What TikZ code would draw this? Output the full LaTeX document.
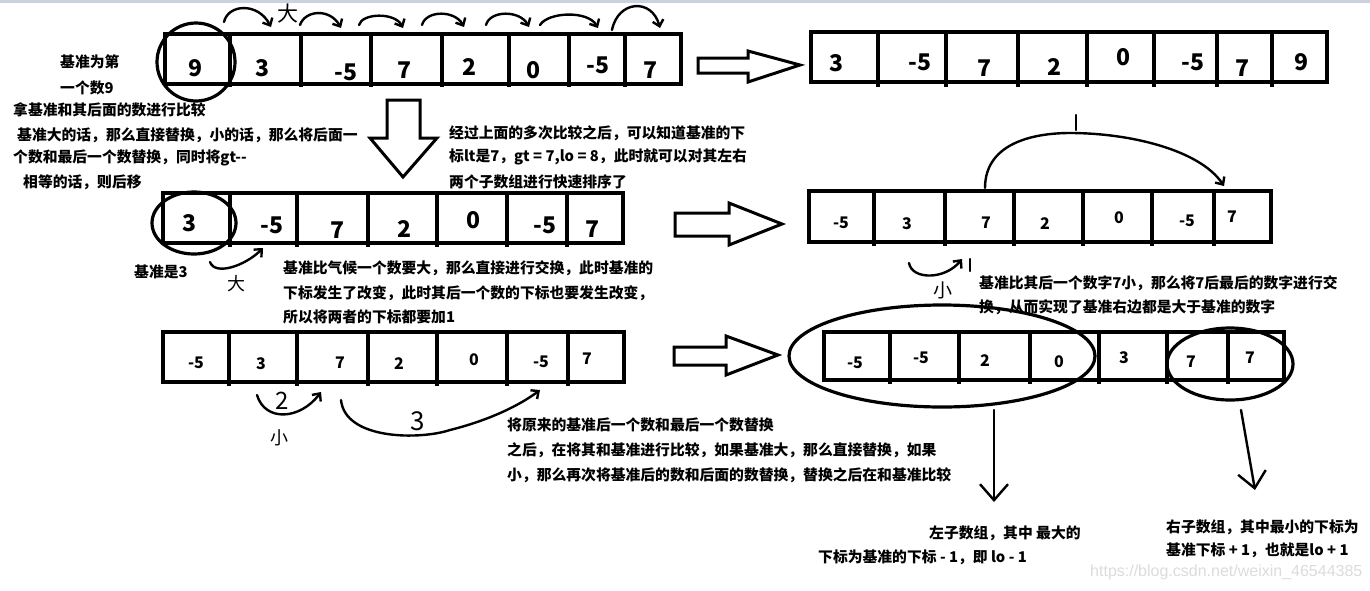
\documentclass[tikz,border=0pt]{standalone}
\usepackage{fontspec}
\setmainfont{Noto Sans CJK SC}
\newfontfamily\wmfont{Liberation Sans}
\usetikzlibrary{arrows.meta}
\definecolor{topband}{HTML}{C9D2DE}
\definecolor{wmgray}{HTML}{DCDCDC}
\tikzset{
  gridl/.style={line width=3.6pt, line join=miter},
  numL/.style={font=\bfseries\fontsize{23}{23}\selectfont, inner sep=0pt},
  numS/.style={font=\bfseries\fontsize{16}{16}\selectfont, inner sep=0pt},
  txt/.style={font=\bfseries\fontsize{14.8}{14.8}\selectfont, anchor=west, inner sep=0pt},
  hand/.style={line width=2.4pt, line cap=round, line join=round},
  harrow/.style={hand, -{Straight Barb[length=6pt,width=11pt]}},
  bigbarb/.style={hand, -{Straight Barb[length=16pt,width=28pt]}},
  handtxt/.style={font=\fontsize{#1}{#1}\selectfont, inner sep=0pt},
  blockarr/.style={draw, line width=3pt, fill=white, line join=miter},
  ring/.style={draw, line width=3.2pt},
}
\begin{document}
\begin{tikzpicture}[x=1pt,y=-1pt]
\useasboundingbox (0,0) rectangle (1370,590);
\fill[white] (0,0) rectangle (1370,590);
\fill[topband] (0,0) rectangle (1370,3);

% ---------- row 1 left ----------
\draw[gridl] (165,34) rectangle (681,84);
\foreach \x in {230,301,371,442,509,569,625} \draw[gridl] (\x,34) -- (\x,87);
\foreach \n/\x/\y/\v in {a1/196/68/9, a2/263/68/3, a3/346/72/-5, a4/404/70/7, a5/469/67/2, a6/533/70/0, a7/598/65/-5, a8/650/70/7}
  \node[numL] (\n) at (\x,\y) {\v};
\draw[ring] (196,62) ellipse [x radius=39, y radius=39];

% arcs over row 1
\coordinate (p1s) at (224,22); \coordinate (p1e) at (271,27);
\coordinate (p2s) at (300,25); \coordinate (p2e) at (341,28);
\coordinate (p3s) at (359,25); \coordinate (p3e) at (403,28);
\coordinate (p4s) at (422,25); \coordinate (p4e) at (464,27);
\coordinate (p5s) at (486,25); \coordinate (p5e) at (529,27);
\coordinate (p6s) at (540,25); \coordinate (p6e) at (598,28);
\coordinate (p7s) at (612,30); \coordinate (p7e) at (660,28);
\draw[harrow] (p1s) .. controls (228,4) and (258,2) .. (p1e);
\draw[harrow] (p2s) .. controls (305,10) and (330,8) .. (p2e);
\draw[harrow] (p3s) .. controls (362,13) and (395,12) .. (p3e);
\draw[harrow] (p4s) .. controls (426,10) and (455,10) .. (p4e);
\draw[harrow] (p5s) .. controls (490,10) and (520,10) .. (p5e);
\draw[harrow] (p6s) .. controls (548,12) and (588,10) .. (p6e);
\draw[harrow] (p7s) .. controls (618,0) and (652,-2) .. (p7e);
\node[handtxt=21] (h1) at (288,14) {大};

% ---------- block arrows ----------
\draw[blockarr] (698,58) -- (748,58) -- (748,51) -- (800,65) -- (748,82) -- (748,73) -- (698,73) -- cycle;
\draw[blockarr] (387,100) -- (420,100) -- (420,138) -- (437,138) -- (403,177) -- (370,138) -- (387,138) -- cycle;
\draw[blockarr] (675,213) -- (729,213) -- (729,203) -- (782,224) -- (729,245) -- (729,236) -- (675,236) -- cycle;
\draw[blockarr] (674,347) -- (726,347) -- (726,336) -- (778,355) -- (726,375) -- (726,365) -- (674,365) -- cycle;

% ---------- row 1 right ----------
\draw[gridl] (811,32) rectangle (1327,82);
\foreach \x in {878,946,1018,1087,1154,1217,1272} \draw[gridl] (\x,32) -- (\x,87);
\foreach \n/\x/\y/\v in {b1/836/63/3, b2/920/62/-5, b3/984/68/7, b4/1054/67/2, b5/1123/57/0, b6/1193/62/-5, b7/1242/68/7, b8/1301/62/9}
  \node[numL] (\n) at (\x,\y) {\v};

% ---------- row 2 left ----------
\draw[gridl] (163,193) rectangle (623,243);
\foreach \x in {230,297,368,437,507,567} \draw[gridl] (\x,193) -- (\x,247);
\foreach \n/\x/\y/\v in {c1/190/223/3, c2/272/225/-5, c3/337/230/7, c4/404/229/2, c5/473/220/0, c6/545/225/-5, c7/592/229/7}
  \node[numL] (\n) at (\x,\y) {\v};
\draw[ring] (194,223) ellipse [x radius=42, y radius=31];
\coordinate (q1s) at (210,262); \coordinate (q1e) at (263,248);
\draw[harrow] (q1s) .. controls (215,276) and (245,266) .. (q1e);
\node[handtxt=18] (h2) at (236,284) {大};

% ---------- row 2 right ----------
\draw[gridl] (809,191) rectangle (1271,242);
\foreach \x in {874,945,1014,1083,1152,1214} \draw[gridl] (\x,191) -- (\x,246);
\foreach \n/\x/\y/\v in {d1/841/223/-5, d2/907/224/3, d3/986/223/7, d4/1045/224/2, d5/1119/218/0, d6/1187/221/-5, d7/1232/217/7}
  \node[numS] (\n) at (\x,\y) {\v};
\coordinate (r1s) at (985,188); \coordinate (r1m) at (1070,133); \coordinate (r1e) at (1224,186);
\draw[harrow] (r1s) .. controls (985,140) and (1040,133) .. (r1m) .. controls (1130,133) and (1200,150) .. (r1e);
\coordinate (k1a) at (1076,115); \coordinate (k1b) at (1076,130);
\draw[hand] (k1a) -- (k1b);
\coordinate (r2s) at (909,263); \coordinate (r2e) at (962,259);
\draw[harrow] (r2s) .. controls (912,280) and (945,280) .. (r2e);
\coordinate (k2a) at (970,259); \coordinate (k2b) at (970,271);
\draw[hand] (k2a) -- (k2b);
\node[handtxt=19] (h3) at (943,290) {小};

% ---------- row 3 left ----------
\draw[gridl] (163,332) rectangle (624,382);
\foreach \x in {229,297,368,437,507,568} \draw[gridl] (\x,332) -- (\x,386);
\foreach \n/\x/\y/\v in {e1/196/363/-5, e2/261/364/3, e3/340/363/7, e4/399/364/2, e5/474/360/0, e6/541/362/-5, e7/587/359/7}
  \node[numS] (\n) at (\x,\y) {\v};
\coordinate (s1s) at (257,395); \coordinate (s1e) at (321,392);
\draw[harrow] (s1s) .. controls (265,422) and (300,420) .. (s1e);
\node[handtxt=24] (h4) at (282,401) {2};
\node[handtxt=18] (h5) at (279,438) {小};
\coordinate (s2s) at (341,400); \coordinate (s2m) at (450,430); \coordinate (s2e) at (540,390);
\draw[harrow] (s2s) .. controls (345,440) and (420,440) .. (s2m) .. controls (490,420) and (520,405) .. (s2e);
\node[handtxt=26] (h6) at (418,421) {3};

% ---------- row 3 right ----------
\draw[gridl] (824,332) rectangle (1284,380);
\foreach \x in {890,959,1030,1099,1167,1228} \draw[gridl] (\x,332) -- (\x,384);
\foreach \n/\x/\y/\v in {f1/855/363/-5, f2/921/358/-5, f3/985/361/2, f4/1059/362/0, f5/1124/358/3, f6/1191/362/7, f7/1250/358/7}
  \node[numS] (\n) at (\x,\y) {\v};
\draw[ring] (942,356) ellipse [x radius=153, y radius=51];
\draw[ring] (1230,364) ellipse [x radius=63, y radius=36];
\coordinate (dl1) at (994,410); \coordinate (dl2) at (994,502);
\coordinate (dr1) at (1241,410); \coordinate (dr2) at (1255,490);
\draw[bigbarb] (dl1) -- (dl2);
\draw[bigbarb] (dr1) -- (dr2);

% ---------- texts ----------
\node[txt] (t1) at (60,62) {基准为第};
\node[txt] (t2) at (60,88) {一个数9};
\node[txt] (t3) at (13,110) {拿基准和其后面的数进行比较};
\node[txt] (t4) at (17,135) {基准大的话，那么直接替换，小的话，那么将后面一};
\node[txt] (t5) at (13,158) {个数和最后一个数替换，同时将gt-{}-};
\node[txt] (t6) at (23,182) {相等的话，则后移};
\node[txt] (t7) at (449,133) {经过上面的多次比较之后，可以知道基准的下};
\node[txt] (t8) at (449,157) {标lt是7，gt = 7,lo = 8，此时就可以对其左右};
\node[txt] (t9) at (449,182) {两个子数组进行快速排序了};
\node[txt] (t10) at (134,272) {基准是3};
\node[txt] (t11) at (283,268) {基准比气候一个数要大，那么直接进行交换，此时基准的};
\node[txt] (t12) at (283,293) {下标发生了改变，此时其后一个数的下标也要发生改变，};
\node[txt] (t13) at (283,317) {所以将两者的下标都要加1};
\node[txt] (t14) at (979,283) {基准比其后一个数字7小，那么将7后最后的数字进行交};
\node[txt] (t15) at (979,307) {换，从而实现了基准右边都是大于基准的数字};
\node[txt] (t16) at (507,425) {将原来的基准后一个数和最后一个数替换};
\node[txt] (t17) at (507,450) {之后，在将其和基准进行比较，如果基准大，那么直接替换，如果};
\node[txt] (t18) at (507,475) {小，那么再次将基准后的数和后面的数替换，替换之后在和基准比较};
\node[txt] (t19) at (929,533) {左子数组，其中 最大的};
\node[txt] (t20) at (818,557) {下标为基准的下标 - 1，即 lo - 1};
\node[txt] (t21) at (1166,527) {右子数组，其中最小的下标为};
\node[txt] (t22) at (1166,550) {基准下标 + 1，也就是lo + 1};
\node[anchor=west, inner sep=0pt, font=\wmfont\fontsize{16}{16}\selectfont, text=wmgray] (wm) at (1090,572) {https://blog.csdn.net/weixin\_46544385};
\end{tikzpicture}
\end{document}
